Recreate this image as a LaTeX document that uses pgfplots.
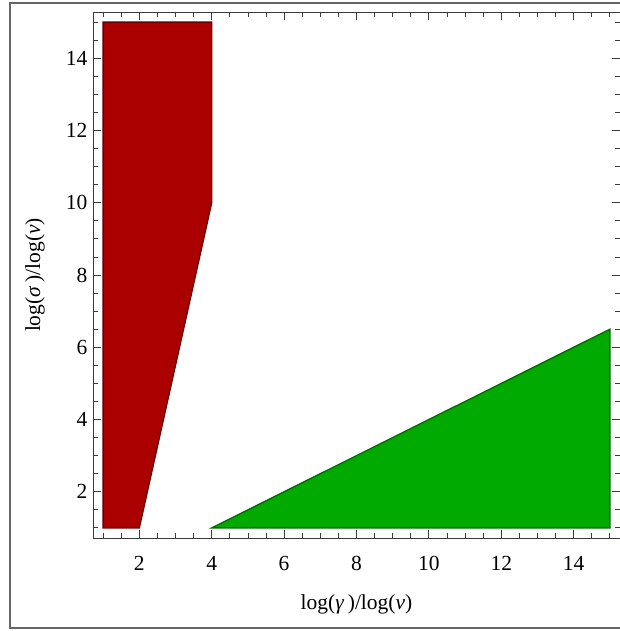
\documentclass[border=0pt]{standalone}
\usepackage{fontspec}
\setmainfont{Liberation Serif}
\usepackage{pgfplots}
\pgfplotsset{compat=1.18}

\definecolor{regred}{RGB}{170,0,0}
\definecolor{regrededge}{RGB}{105,0,0}
\definecolor{reggreen}{RGB}{0,170,0}
\definecolor{reggreenedge}{RGB}{0,105,0}
\definecolor{framegray}{RGB}{60,60,60}

\begin{document}
\begin{tikzpicture}
\useasboundingbox (0,0) rectangle (620pt,631pt);
\clip (0,0) rectangle (620pt,631pt);
\draw[line width=1.2pt, black!60] (10pt,3pt) rectangle (640pt,628pt);
\begin{axis}[
    at={(93pt,93pt)}, anchor=south west,
    scale only axis, width=527pt, height=526pt,
    xmin=0.72, xmax=15.28, ymin=0.72, ymax=15.28,
    xtick={2,4,...,14}, ytick={2,4,...,14},
    minor xtick={1,1.5,...,15}, minor ytick={1,1.5,...,15},
    tick align=inside,
    major tick length=8pt, minor tick length=5pt,
    axis line style={framegray, line width=0.9pt},
    every tick/.style={framegray, line width=0.8pt},
    /pgf/number format/assume math mode=true,
    xticklabel style={font=\fontsize{21.5}{25}\selectfont, anchor=center, yshift=-25pt},
    yticklabel style={font=\fontsize{21.5}{25}\selectfont, anchor=east, xshift=-2pt},
    xlabel={log(\textit{γ}\,)/log(\textit{ν})},
    ylabel={log(\textit{σ}\,)/log(\textit{ν})},
    label style={font=\fontsize{21.5}{25}\selectfont},
    xlabel style={at={(axis description cs:0.5,-0.127)}, anchor=center},
    ylabel style={at={(axis description cs:-0.110,0.5)}, anchor=center, rotate=0},
  ]
  \addplot[fill=regred, draw=regrededge, line width=1.3pt] coordinates {
    (1,1) (2,1) (4,10) (4,15) (1,15)
  } -- cycle;
  \addplot[fill=reggreen, draw=reggreenedge, line width=1.3pt] coordinates {
    (4,1) (15,1) (15,6.5)
  } -- cycle;
\end{axis}
\end{tikzpicture}
\end{document}
